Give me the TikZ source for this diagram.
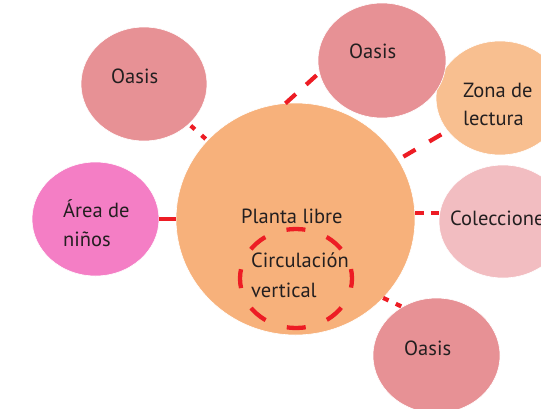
\documentclass[tikz,border=0pt]{standalone}
\usepackage{fontspec}
\setmainfont{PT Sans}
\usetikzlibrary{shapes.geometric}
\definecolor{oasisc}{HTML}{E79195}
\definecolor{bigc}{HTML}{F7B17B}
\definecolor{zonac}{HTML}{F8BF90}
\definecolor{colc}{HTML}{F2BDC1}
\definecolor{areac}{HTML}{F47EC5}
\definecolor{redc}{HTML}{ED1C24}
\definecolor{txt}{HTML}{231F20}
\begin{document}
\begin{tikzpicture}[x=1pt,y=-1pt,
  bub/.style={ellipse, inner sep=0pt, outer sep=0pt, draw=white, line width=0.6pt},
  lbl/.style={anchor=base west, inner sep=0pt, text=txt, font=\fontsize{20.5}{29}\selectfont},
  link/.style={draw=redc, line width=4.2pt}]
\path[use as bounding box] (0,0) rectangle (541,408);
\clip (0,0) rectangle (541,408);
% bubbles
\node[bub, fill=zonac, minimum width=128pt, minimum height=114pt] (zona) at (500,98) {};
\node[bub, fill=oasisc, minimum width=128pt, minimum height=115pt] (oasT) at (382,60.5) {};
\node[bub, fill=oasisc, minimum width=126pt, minimum height=114pt] (oasTL) at (144,84) {};
\node[bub, fill=colc, minimum width=128pt, minimum height=113pt] (col) at (503,221.5) {};
\node[bub, fill=oasisc, minimum width=127pt, minimum height=115pt] (oasB) at (436.5,355.5) {};
\node[bub, fill=areac, minimum width=127pt, minimum height=114pt] (area) at (95.5,219) {};
\node[bub, fill=bigc, minimum width=239pt, minimum height=232pt] (big) at (295.5,219) {};
\node[ellipse, inner sep=0pt, outer sep=0pt, draw=redc, line width=4.3pt,
      dash pattern=on 19pt off 22.5pt, dash phase=9.5pt,
      minimum width=112pt, minimum height=99pt] (circ) at (296,278.5) {};
% connectors
\draw[link, dash pattern=on 5.5pt off 9pt, dash phase=12pt] (oasTL) -- (big);
\draw[link, dash pattern=on 14pt off 14pt] (big.95) -- (oasT.191);
\draw[link, dash pattern=on 14pt off 16pt, dash phase=24pt] (big.30) -- (zona.212);
\draw[link, dash pattern=on 9pt off 7pt] (big.3) -- (big.3 -| col.west);
\draw[link, dash pattern=on 6pt off 8pt] (big.-42) -- (oasB.125);
\draw[link] (area.east) -- (big.west);
% labels
\node[lbl] (tOasTL) at (111,83) {Oasis};
\node[lbl] (tOasT) at (349,58) {Oasis};
\node[lbl] (tZona1) at (463,97) {Zona de};
\node[lbl] (tZona2) at (463,125) {lectura};
\node[lbl] (tCol) at (450,225) {Colecciones};
\node[lbl] (tOasB) at (404,355) {Oasis};
\node[lbl] (tArea1) at (63,217) {Área de};
\node[lbl] (tArea2) at (63,246) {niños};
\node[lbl] (tPlanta) at (241,223) {Planta libre};
\node[lbl] (tCirc1) at (251,267) {Circulación};
\node[lbl] (tCirc2) at (251,297) {vertical};
\end{tikzpicture}
\end{document}
